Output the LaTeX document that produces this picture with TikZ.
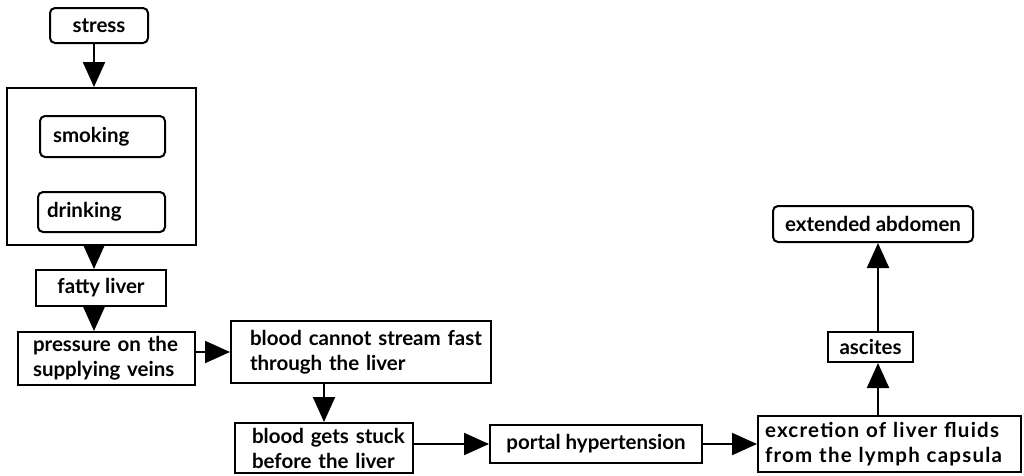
\documentclass[tikz,border=0pt]{standalone}
\usepackage{fontspec}
\setmainfont{Lato}
\usetikzlibrary{arrows.meta,calc}
\begin{document}
\begin{tikzpicture}[x=1pt,y=-1pt,
  box/.style={draw=black,line width=2pt,inner sep=0pt,font=\fontsize{20.5}{25}\selectfont\bfseries},
  rbox/.style={box,rounded corners=5pt},
  frame/.style={draw=black,line width=2pt,inner sep=0pt},
  arr/.style={line width=2.2pt,-{Triangle[width=22pt,length=25pt]}},
  ]
\useasboundingbox (0,0) rectangle (1024,475);
\node[rbox,minimum width=98pt,minimum height=35pt] (stress) at (99,25.5) {stress};
\node[frame,minimum width=189pt,minimum height=157pt] (big) at (101.5,166.5) {};
\node[rbox,minimum width=125pt,minimum height=41pt,text width=99pt,align=left] (smoking) at (102.5,136.5) {smoking};
\node[rbox,minimum width=127pt,minimum height=40pt,text width=109pt,align=left] (drinking) at (101.5,212) {drinking};
\node[box,minimum width=130pt,minimum height=36pt] (fatty) at (101,288) {fatty liver};
\node[box,minimum width=177pt,minimum height=53pt,text width=147pt,align=left] (pressure) at (106.5,358.5) {\mbox{pressure on the}\\\mbox{supplying veins}};
\node[box,minimum width=260pt,minimum height=62pt,text width=222pt,align=left] (cannot) at (361,352) {\mbox{blood cannot stream fast}\\\mbox{through the liver}};
\node[box,minimum width=178pt,minimum height=50pt,text width=144pt,align=left] (stuck) at (324,448) {\mbox{blood gets stuck}\\\mbox{before the liver}};
\node[box,minimum width=212pt,minimum height=38pt] (portal) at (596,444) {portal hypertension};
\node[box,minimum width=263pt,minimum height=56pt,text width=249pt,align=left] (exc) at (889.5,444) {\addfontfeature{LetterSpace=6}\mbox{excretion of liver fluids}\\\mbox{from the lymph capsula}};
\node[box,minimum width=85pt,minimum height=30pt] (asc) at (870.5,347) {ascites};
\node[rbox,minimum width=200pt,minimum height=36pt] (abd) at (873,224) {extended abdomen};
\coordinate (ax) at (878,0);
\coordinate (lx) at (94,0);
\draw[arr] (stress.south -| lx) -- (big.north -| lx);
\draw[arr] (big.south -| lx) -- (fatty.north -| lx);
\draw[arr] (fatty.south -| lx) -- (pressure.north -| lx);
\draw[arr] (cannot.west -| pressure.east) -- (cannot.west);
\draw[arr] (cannot.south -| stuck) -- (stuck.north);
\draw[arr] (stuck.east |- portal.west) -- (portal.west);
\draw[arr] (portal.east) -- (exc.west);
\draw[arr] (exc.north -| ax) -- (asc.south -| ax);
\draw[arr] (asc.north -| ax) -- (abd.south -| ax);
\end{tikzpicture}
\end{document}
